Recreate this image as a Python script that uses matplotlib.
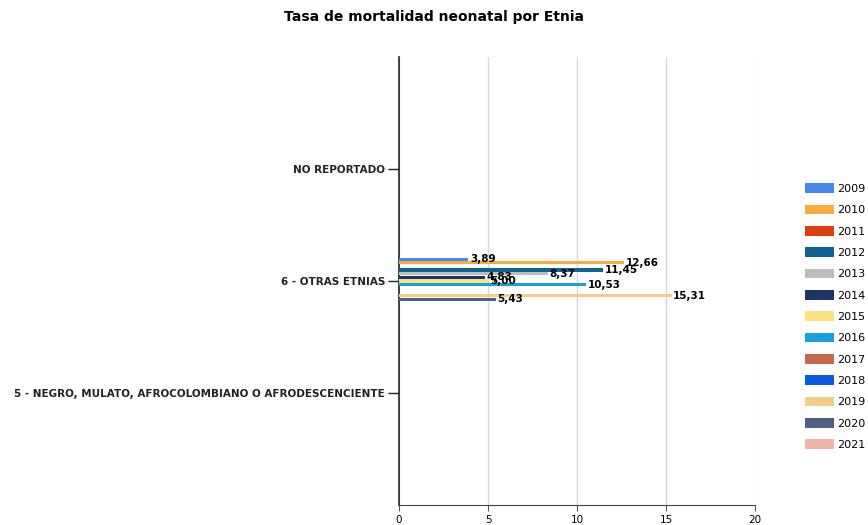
import numpy as np
import matplotlib
matplotlib.use('Agg')
from matplotlib import pyplot as plt
from matplotlib.patches import Patch

categories = ['NO REPORTADO', '6 - OTRAS ETNIAS',
              '5 - NEGRO, MULATO, AFROCOLOMBIANO O AFRODESCENCIENTE']
years = ['2009', '2010', '2011', '2012', '2013', '2014', '2015',
         '2016', '2017', '2018', '2019', '2020', '2021']
# rows = years, columns = categories
values = [
    [0, 3.89, 0],
    [0, 12.66, 0],
    [0, 0, 0],
    [0, 11.45, 0],
    [0, 8.37, 0],
    [0, 4.83, 0],
    [0, 5.00, 0],
    [0, 10.53, 0],
    [0, 0, 0],
    [0, 0, 0],
    [0, 15.31, 0],
    [0, 5.43, 0],
    [0, 0, 0],
]
colors = ['#4688EE', '#F7AC3C', '#DC4010', '#0E6391', '#BDBDBD', '#1B3565',
          '#FDE17F', '#1A9FDE', '#C4694B', '#0B5BDF', '#F2CE88', '#4E6183',
          '#EFB6A6']

fig = plt.figure(figsize=(8.68, 5.25), dpi=100)
ax = fig.add_axes([0.4597, 0.0381, 0.4101, 0.8533])

y = np.arange(len(categories))
step = 0.0325
h = 0.029
n = len(years)
for i, yr in enumerate(years):
    off = (i - (n - 1) / 2) * step
    vals = np.array(values[i])
    ax.barh(y + off, vals, height=h, color=colors[i], zorder=3)
    for j, v in enumerate(vals):
        if v > 0:
            ax.text(v + 0.1, y[j] + off, f'{v:.2f}'.replace('.', ','),
                    fontsize=7.5, fontweight='bold', va='center', ha='left',
                    zorder=4)

ax.set_ylim(3, -1)
ax.set_xlim(0, 20)
ax.set_yticks(y)
ax.set_yticklabels(categories, fontsize=7.5, fontweight='bold', color='#222222')
ax.set_xticks([0, 5, 10, 15, 20])
ax.tick_params(axis='x', labelsize=7.5, length=4, color='#555555')
ax.tick_params(axis='y', length=8, width=1, color='#222222', pad=2)
ax.grid(axis='x', color='#d8d8d8', lw=1, zorder=0)
ax.spines['top'].set_visible(False)
ax.spines['right'].set_visible(False)
ax.spines['left'].set_color('#222222')
ax.spines['left'].set_linewidth(1.2)
ax.spines['bottom'].set_color('#444444')

fig.suptitle('Tasa de mortalidad neonatal por Etnia', x=0.5, y=0.98,
             fontsize=10, fontweight='bold')

handles = [Patch(facecolor=c, edgecolor='none') for c in colors]
fig.legend(handles, years, loc='center left', bbox_to_anchor=(0.925, 0.397),
           frameon=False, fontsize=8, handlelength=2.6, handleheight=1.0,
           handletextpad=0.3, labelspacing=0.95, borderaxespad=0,
           borderpad=0.2)

plt.savefig('out.png')
